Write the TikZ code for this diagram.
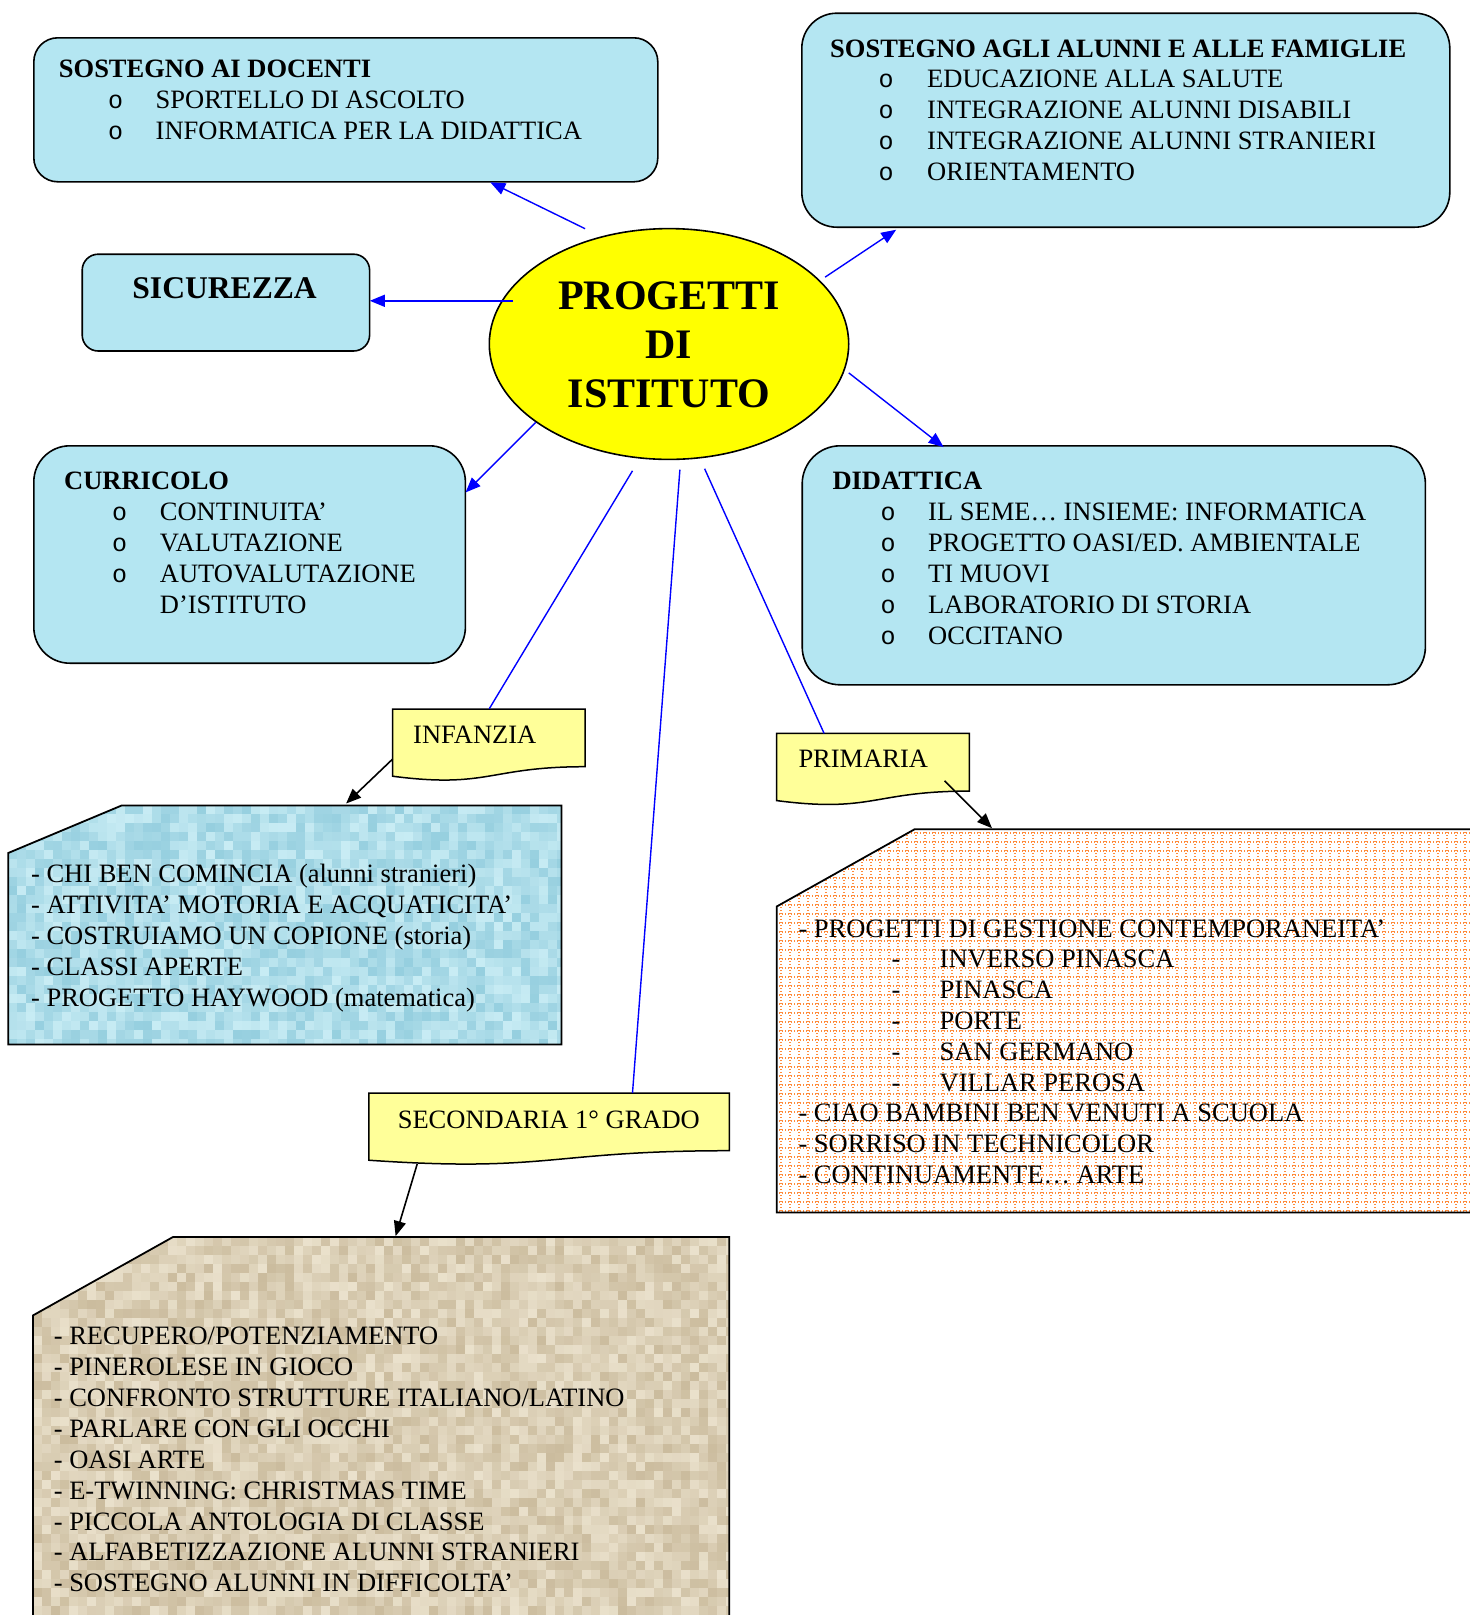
\documentclass[tikz,border=0pt]{standalone}
\usepackage{fontspec}
\setmainfont{Liberation Serif}
\newfontfamily\monof{Liberation Mono}
\usetikzlibrary{arrows.meta,shapes.geometric}
\definecolor{boxfill}{RGB}{180,230,242}
\definecolor{tagfill}{RGB}{255,255,153}
\definecolor{ellfill}{RGB}{255,255,0}
\definecolor{lnblue}{RGB}{0,0,255}
\definecolor{texBA}{RGB}{150,207,223}
\definecolor{texBB}{RGB}{200,236,244}
\definecolor{texCA}{RGB}{203,188,158}
\definecolor{texCB}{RGB}{234,225,204}
\definecolor{gridor}{RGB}{255,140,60}
\newcommand{\bodyf}{\fontsize{26.5}{31}\selectfont}
\newcommand{\headf}{\bfseries\fontsize{26.5}{31}\selectfont}
\begin{document}
\begin{tikzpicture}[x=1pt,y=-1pt,
  rbox/.style={draw=black, fill=boxfill, line width=1.6pt, anchor=north west, inner sep=0pt},
  tagbox/.style={draw=black, fill=tagfill, line width=1.5pt},
  chbox/.style={draw=black, line width=1.8pt},
  ltxt/.style={anchor=base west, inner sep=0pt, font=\bodyf},
  htxt/.style={anchor=base west, inner sep=0pt, font=\headf},
  bul/.style={anchor=base, inner sep=0pt, font=\monof\fontsize{25}{31}\selectfont},
  blink/.style={draw=lnblue, line width=1.4pt},
  barrow/.style={blink, -{Triangle[length=15pt,width=12pt]}},
  karrow/.style={draw=black, line width=1.6pt, -{Triangle[length=15pt,width=12pt]}},
  gridline/.style={draw=gridor, line width=1.1pt, dash pattern=on 1.3pt off 1.7pt}
]
\useasboundingbox (0,0) rectangle (1470,1615);
\fill[white] (0,0) rectangle (1470,1615);

% ---------- rounded boxes ----------
\node[rbox, rounded corners=24pt, minimum width=624pt, minimum height=144pt] (docenti) at (33,37) {};
\node[rbox, rounded corners=35pt, minimum width=648pt, minimum height=214pt] (alunni) at (801,12.4) {};
\node[rbox, rounded corners=16pt, minimum width=287.4pt, minimum height=96.8pt] (sicur) at (81.4,253.4) {};
\node[rbox, rounded corners=36pt, minimum width=431.6pt, minimum height=217.4pt] (curric) at (33,445) {};
\node[rbox, rounded corners=38pt, minimum width=623.2pt, minimum height=239pt] (didatt) at (801.4,445) {};

% ---------- central ellipse ----------
\node[ellipse, draw=black, fill=ellfill, line width=1.6pt, minimum width=359.4pt, minimum height=230.8pt, inner sep=0pt] (ell) at (669,344) {};
\node[anchor=base, inner sep=0pt, font=\bfseries\fontsize{42}{49}\selectfont] (ell1) at (669,309.5) {PROGETTI};
\node[anchor=base, inner sep=0pt, font=\bfseries\fontsize{42}{49}\selectfont] (ell2) at (669,358.4) {DI};
\node[anchor=base, inner sep=0pt, font=\bfseries\fontsize{42}{49}\selectfont] (ell3) at (669,407.3) {ISTITUTO};

% ---------- texts of rounded boxes ----------
\node[htxt] (docT) at (58.7,77.5) {SOSTEGNO AI DOCENTI};
\foreach \t [count=\k from 0] in {{SPORTELLO DI ASCOLTO},{INFORMATICA PER LA DIDATTICA}} {
  \node[bul] (docO\k) at (115.5,{108.5+31*\k}) {o};
  \node[ltxt] (docL\k) at (155.5,{108.5+31*\k}) {\t};
}
\node[htxt] (aluT) at (830,57) {SOSTEGNO AGLI ALUNNI E ALLE FAMIGLIE};
\foreach \t [count=\k from 0] in {{EDUCAZIONE ALLA SALUTE},{INTEGRAZIONE ALUNNI DISABILI},{INTEGRAZIONE ALUNNI STRANIERI},{ORIENTAMENTO}} {
  \node[bul] (aluO\k) at (886,{87.8+30.8*\k}) {o};
  \node[ltxt] (aluL\k) at (927,{87.8+30.8*\k}) {\t};
}
\node[anchor=base, inner sep=0pt, font=\bfseries\fontsize{31.6}{36}\selectfont] (sicT) at (224.6,298) {SICUREZZA};
\node[htxt] (curT) at (64,489.6) {CURRICOLO};
\foreach \t [count=\k from 0] in {{CONTINUITA’},{VALUTAZIONE},{AUTOVALUTAZIONE}} {
  \node[bul] (curO\k) at (119.5,{520.6+30.9*\k}) {o};
  \node[ltxt] (curL\k) at (159.7,{520.6+30.9*\k}) {\t};
}
\node[ltxt] (curL3) at (159.7,613.3) {D’ISTITUTO};
\node[htxt] (didT) at (832.3,489.6) {DIDATTICA};
\foreach \t [count=\k from 0] in {{IL SEME… INSIEME: INFORMATICA},{PROGETTO OASI/ED. AMBIENTALE},{TI MUOVI},{LABORATORIO DI STORIA},{OCCITANO}} {
  \node[bul] (didO\k) at (888,{520.6+31*\k}) {o};
  \node[ltxt] (didL\k) at (928,{520.6+31*\k}) {\t};
}

% ---------- tags ----------
\filldraw[tagbox] (392.5,709) -- (585,709) -- (585,766.7) .. controls (488.75,766.7) and (488.75,788.7) .. (392.5,776.2) -- cycle;
\node[ltxt] (infT) at (413,743) {INFANZIA};
\filldraw[tagbox] (776.7,733.4) -- (969.3,733.4) -- (969.3,791.1) .. controls (873,791.1) and (873,813.1) .. (776.7,800.6) -- cycle;
\node[ltxt] (priT) at (798.3,767.8) {PRIMARIA};
\filldraw[tagbox] (368.8,1093) -- (729.3,1093) -- (729.3,1150.7) .. controls (549.05,1150.7) and (549.05,1172.7) .. (368.8,1160.2) -- cycle;
\node[ltxt] (secT) at (397.6,1128.3) {SECONDARIA 1° GRADO};

% ---------- INFANZIA box (blue texture) ----------
\pgfmathsetseed{7}
\begin{scope}
  \clip (121.6,805.5) -- (561.4,805.5) -- (561.4,1044.5) -- (8.2,1044.5) -- (8.2,853) -- cycle;
  \fill[texBB] (8,805) rectangle (562,1045);
  \foreach \i in {0,...,61}{
    \foreach \j in {0,...,26}{
      \pgfmathrandominteger{\pc}{0}{100}
      \fill[texBA!\pc!texBB] ({8+\i*9},{805+\j*9}) rectangle ++(9.3,9.3);
    }
  }
\end{scope}
\draw[chbox] (121.6,805.5) -- (561.4,805.5) -- (561.4,1044.5) -- (8.2,1044.5) -- (8.2,853) -- cycle;
\foreach \t [count=\k from 0] in {{- CHI BEN COMINCIA (alunni stranieri)},{- ATTIVITA’ MOTORIA E ACQUATICITA’},{- COSTRUIAMO UN COPIONE (storia)},{- CLASSI APERTE},{- PROGETTO HAYWOOD (matematica)}} {
  \node[ltxt] (infL\k) at (30.9,{882+31*\k}) {\t};
}

% ---------- PRIMARIA box (orange grid) ----------
\begin{scope}
  \clip (1470,829.2) -- (914.7,829.2) -- (776.7,906.5) -- (776.7,1212.4) -- (1470,1212.4) -- cycle;
  \fill[white] (776,829) rectangle (1470,1213);
  \foreach \gx in {781,790,...,1470} \draw[gridline] (\gx,829) -- (\gx,1213);
  \foreach \gy in {833,842,...,1212} \draw[gridline] (776,\gy) -- (1470,\gy);
\end{scope}
\draw[chbox] (1470,829.2) -- (914.7,829.2) -- (776.7,906.5) -- (776.7,1212.4) -- (1470,1212.4);
\node[ltxt] (priL0) at (798.3,937) {- PROGETTI DI GESTIONE CONTEMPORANEITA’};
\foreach \t [count=\k from 1] in {{INVERSO PINASCA},{PINASCA},{PORTE},{SAN GERMANO},{VILLAR PEROSA}} {
  \node[anchor=base, inner sep=0pt, font=\bodyf] (priD\k) at (896,{937+30.8*\k}) {-};
  \node[ltxt] (priS\k) at (939.5,{937+30.8*\k}) {\t};
}
\node[ltxt] (priL6) at (798.3,1121.8) {- CIAO BAMBINI BEN VENUTI A SCUOLA};
\node[ltxt] (priL7) at (798.3,1152.6) {- SORRISO IN TECHNICOLOR};
\node[ltxt] (priL8) at (798.3,1183.4) {- CONTINUAMENTE… ARTE};

% ---------- SECONDARIA box (beige texture) ----------
\begin{scope}
  \clip (33,1615) -- (33,1315.4) -- (173,1237) -- (729.3,1237) -- (729.3,1615) -- cycle;
  \fill[texCB] (33,1237) rectangle (730,1615);
  \foreach \i in {0,...,77}{
    \foreach \j in {0,...,42}{
      \pgfmathrandominteger{\pc}{0}{100}
      \fill[texCA!\pc!texCB] ({33+\i*9},{1237+\j*9}) rectangle ++(9.3,9.3);
    }
  }
\end{scope}
\draw[chbox] (33,1616) -- (33,1315.4) -- (173,1237) -- (729.3,1237) -- (729.3,1616);
\foreach \t [count=\k from 0] in {{- RECUPERO/POTENZIAMENTO},{- PINEROLESE IN GIOCO},{- CONFRONTO STRUTTURE ITALIANO/LATINO},{- PARLARE CON GLI OCCHI},{- OASI ARTE},{- E-TWINNING: CHRISTMAS TIME},{- PICCOLA ANTOLOGIA DI CLASSE},{- ALFABETIZZAZIONE ALUNNI STRANIERI},{- SOSTEGNO ALUNNI IN DIFFICOLTA’}} {
  \node[ltxt] (secL\k) at (53.6,{1344.6+30.9*\k}) {\t};
}

% ---------- connector end points ----------
\coordinate (c1s) at (585.1,228.7);  \coordinate (c1e) at (490.3,182.3);
\coordinate (c2s) at (825.1,277.1);  \coordinate (c2e) at (896.2,229.7);
\coordinate (c3s) at (513,300.8);    \coordinate (c3e) at (369.8,300.8);
\coordinate (c4s) at (535.7,422.3);  \coordinate (c4e) at (465.6,492.4);
\coordinate (c5s) at (848.8,372.9);  \coordinate (c5e) at (943.6,447.1);
\coordinate (c6s) at (632.5,470.8);  \coordinate (c6e) at (489.3,708.7);
\coordinate (c7s) at (679.9,469.7);  \coordinate (c7e) at (632.5,1093);
\coordinate (c8s) at (704.6,468.7);  \coordinate (c8e) at (824.1,733.4);
\coordinate (c9s) at (392.5,759.2);  \coordinate (c9e) at (346.1,803.5);
\coordinate (c10s) at (944.6,780.8); \coordinate (c10e) at (992,828.2);
\coordinate (c11s) at (417.2,1164);  \coordinate (c11e) at (395.6,1236.1);

% ---------- connectors ----------
\draw[barrow] (c1s) -- (c1e);
\draw[barrow] (c2s) -- (c2e);
\draw[barrow] (c3s) -- (c3e);
\draw[barrow] (c4s) -- (c4e);
\draw[barrow] (c5s) -- (c5e);
\draw[blink] (c6s) -- (c6e);
\draw[blink] (c7s) -- (c7e);
\draw[blink] (c8s) -- (c8e);
\draw[karrow] (c9s) -- (c9e);
\draw[karrow] (c10s) -- (c10e);
\draw[karrow] (c11s) -- (c11e);
\end{tikzpicture}
\end{document}
